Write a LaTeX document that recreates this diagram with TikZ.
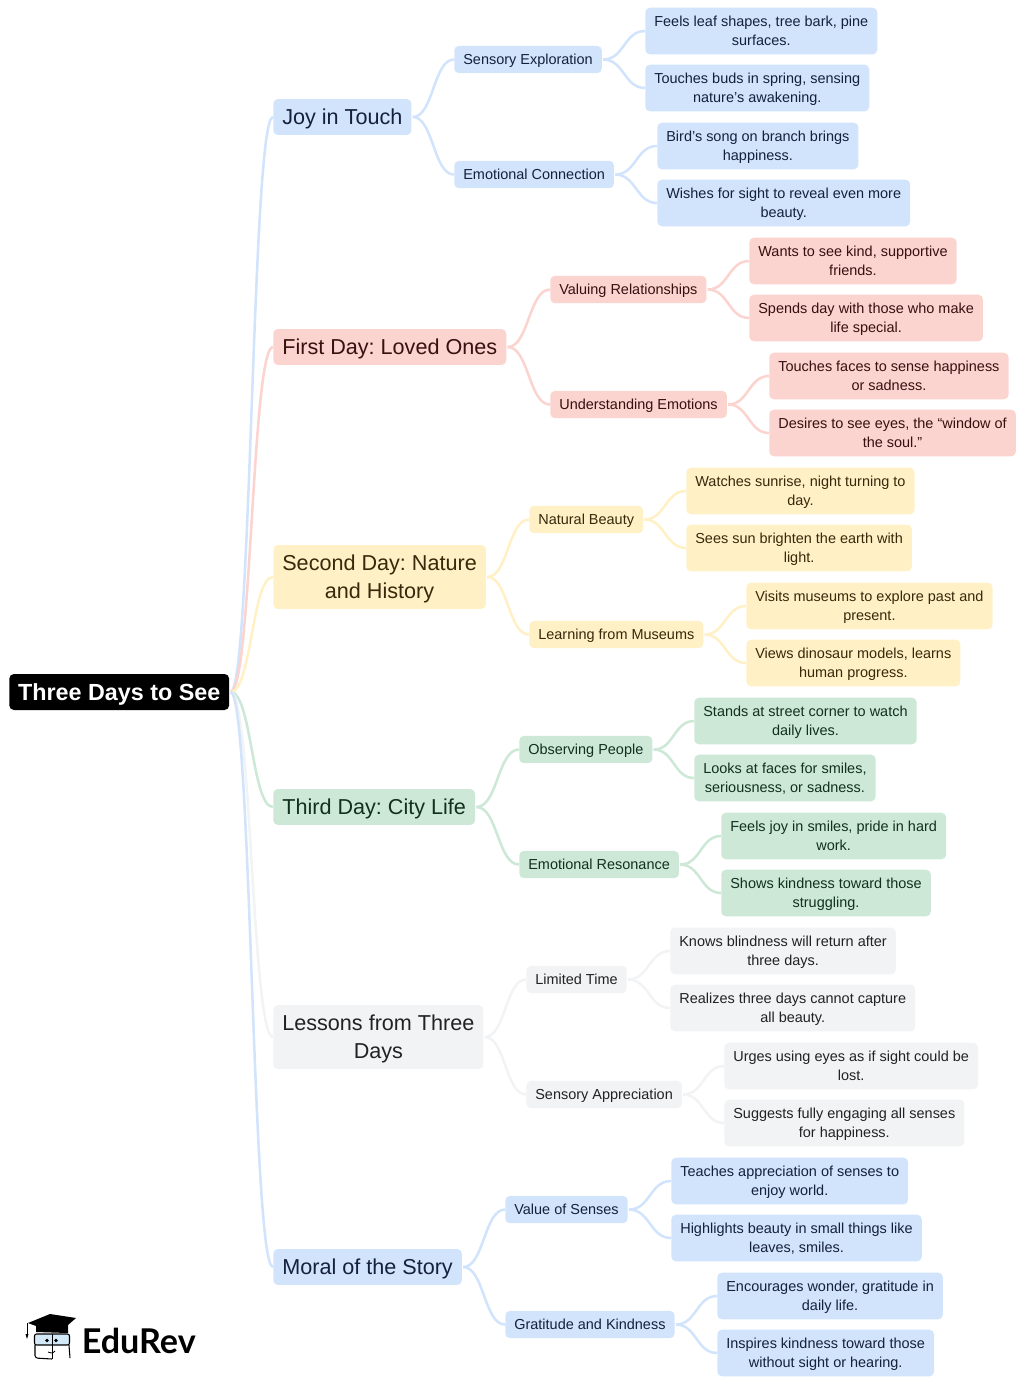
\documentclass[tikz,border=0pt]{standalone}
\usepackage{fontspec}
\setmainfont{Liberation Sans}
\newfontfamily\logofont{Lato}
\usetikzlibrary{calc}
\frenchspacing

\definecolor{fillblue}{HTML}{D2E3FC}
\definecolor{fillpink}{HTML}{FBD3CF}
\definecolor{fillyellow}{HTML}{FFF0C6}
\definecolor{fillgreen}{HTML}{CDE8D6}
\definecolor{fillgray}{HTML}{F2F3F4}
\definecolor{inkblue}{HTML}{14213D}
\definecolor{inkpink}{HTML}{35120F}
\definecolor{inkyellow}{HTML}{362A0A}
\definecolor{inkgreen}{HTML}{12301F}
\definecolor{inkgray}{HTML}{222222}
\definecolor{logoglass}{HTML}{D3E9F8}

\begin{document}
\begin{tikzpicture}[x=0.75pt,y=-0.75pt,
  box node/.style={anchor=west,rounded corners=3.5pt,align=center,text depth=0pt},
  root node/.style={box node,fill=black,text=white,inner xsep=6.6pt,inner ysep=1pt,minimum height=27pt,
    font=\fontsize{17.5}{21}\selectfont\bfseries},
  topic node/.style={box node,inner xsep=6.8pt,inner ysep=7.6pt,font=\fontsize{16.2}{21}\selectfont},
  sub node/.style={box node,yshift=-0.4pt,inner xsep=6.8pt,inner ysep=1pt,minimum height=20.5pt,font=\fontsize{10.85}{14.25}\selectfont},
  leaf node/.style={box node,inner xsep=6.8pt,inner ysep=1pt,minimum height=35pt,font=\fontsize{10.85}{14.25}\selectfont},
  blue tint/.style={fill=fillblue,text=inkblue},
  pink tint/.style={fill=fillpink,text=inkpink},
  yellow tint/.style={fill=fillyellow,text=inkyellow},
  green tint/.style={fill=fillgreen,text=inkgreen},
  gray tint/.style={fill=fillgray,text=inkgray},
  link/.style={line width=1.9pt,to path={let \p1=([xshift=0.8pt]\tikztostart.east),\p2=(\tikztotarget.west),
    \n1={(\x1+\x2)/2} in (\p1) .. controls (\n1,\y1) and (\n1,\y2) .. (\p2)}}]

  \useasboundingbox (0,0) rectangle (1024,1384);

  \node[root node] (root) at (9,692) {Three Days to See};

  \node[topic node,blue tint] (joy) at (273,117) {Joy in Touch};
  \node[topic node,pink tint] (first) at (273,347) {First Day: Loved Ones};
  \node[topic node,yellow tint] (second) at (273,577) {Second Day: Nature\\and History};
  \node[topic node,green tint] (third) at (273,807) {Third Day: City Life};
  \node[topic node,gray tint] (lessons) at (273,1037) {Lessons from Three\\Days};
  \node[topic node,blue tint] (moral) at (273,1267) {Moral of the Story};

  \node[sub node,blue tint] (joy1) at (454,59) {Sensory Exploration};
  \node[sub node,blue tint] (joy2) at (454,174) {Emotional Connection};
  \node[sub node,pink tint] (first1) at (550,289) {Valuing Relationships};
  \node[sub node,pink tint] (first2) at (550,404) {Understanding Emotions};
  \node[sub node,yellow tint] (second1) at (529,519) {Natural Beauty};
  \node[sub node,yellow tint] (second2) at (529,634) {Learning from Museums};
  \node[sub node,green tint] (third1) at (519,749) {Observing People};
  \node[sub node,green tint] (third2) at (519,864) {Emotional Resonance};
  \node[sub node,gray tint] (lessons1) at (526,979) {Limited Time};
  \node[sub node,gray tint] (lessons2) at (526,1094) {Sensory Appreciation};
  \node[sub node,blue tint] (moral1) at (505,1209) {Value of Senses};
  \node[sub node,blue tint] (moral2) at (505,1324) {Gratitude and Kindness};

  \node[leaf node,blue tint] (joy11) at (645,31) {Feels leaf shapes, tree bark, pine\\surfaces.};
  \node[leaf node,blue tint] (joy12) at (645,88) {Touches buds in spring, sensing\\nature’s awakening.};
  \node[leaf node,blue tint] (joy21) at (657,146) {Bird’s song on branch brings\\happiness.};
  \node[leaf node,blue tint] (joy22) at (657,203) {Wishes for sight to reveal even more\\beauty.};
  \node[leaf node,pink tint] (first11) at (749,261) {Wants to see kind, supportive\\friends.};
  \node[leaf node,pink tint] (first12) at (749,318) {Spends day with those who make\\life special.};
  \node[leaf node,pink tint] (first21) at (769,376) {Touches faces to sense happiness\\or sadness.};
  \node[leaf node,pink tint] (first22) at (769,433) {Desires to see eyes, the “window of\\the soul.”};
  \node[leaf node,yellow tint] (second11) at (686,491) {Watches sunrise, night turning to\\day.};
  \node[leaf node,yellow tint] (second12) at (686,548) {Sees sun brighten the earth with\\light.};
  \node[leaf node,yellow tint] (second21) at (746,606) {Visits museums to explore past and\\present.};
  \node[leaf node,yellow tint] (second22) at (746,663) {Views dinosaur models, learns\\human progress.};
  \node[leaf node,green tint] (third11) at (694,721) {Stands at street corner to watch\\daily lives.};
  \node[leaf node,green tint] (third12) at (694,778) {Looks at faces for smiles,\\seriousness, or sadness.};
  \node[leaf node,green tint] (third21) at (721,836) {Feels joy in smiles, pride in hard\\work.};
  \node[leaf node,green tint] (third22) at (721,893) {Shows kindness toward those\\struggling.};
  \node[leaf node,gray tint] (lessons11) at (670,951) {Knows blindness will return after\\three days.};
  \node[leaf node,gray tint] (lessons12) at (670,1008) {Realizes three days cannot capture\\all beauty.};
  \node[leaf node,gray tint] (lessons21) at (724,1066) {Urges using eyes as if sight could be\\lost.};
  \node[leaf node,gray tint] (lessons22) at (724,1123) {Suggests fully engaging all senses\\for happiness.};
  \node[leaf node,blue tint] (moral11) at (671,1181) {Teaches appreciation of senses to\\enjoy world.};
  \node[leaf node,blue tint] (moral12) at (671,1238) {Highlights beauty in small things like\\leaves, smiles.};
  \node[leaf node,blue tint] (moral21) at (717,1296) {Encourages wonder, gratitude in\\daily life.};
  \node[leaf node,blue tint] (moral22) at (717,1353) {Inspires kindness toward those\\without sight or hearing.};

  \path[link,draw=fillblue] (root) edge (joy)
    (joy) edge (joy1) (joy) edge (joy2)
    (joy1) edge (joy11) (joy1) edge (joy12)
    (joy2) edge (joy21) (joy2) edge (joy22);
  \path[link,draw=fillpink] (root) edge (first)
    (first) edge (first1) (first) edge (first2)
    (first1) edge (first11) (first1) edge (first12)
    (first2) edge (first21) (first2) edge (first22);
  \path[link,draw=fillyellow] (root) edge (second)
    (second) edge (second1) (second) edge (second2)
    (second1) edge (second11) (second1) edge (second12)
    (second2) edge (second21) (second2) edge (second22);
  \path[link,draw=fillgreen] (root) edge (third)
    (third) edge (third1) (third) edge (third2)
    (third1) edge (third11) (third1) edge (third12)
    (third2) edge (third21) (third2) edge (third22);
  \path[link,draw=fillgray] (root) edge (lessons)
    (lessons) edge (lessons1) (lessons) edge (lessons2)
    (lessons1) edge (lessons11) (lessons1) edge (lessons12)
    (lessons2) edge (lessons21) (lessons2) edge (lessons22);
  \path[link,draw=fillblue] (root) edge (moral)
    (moral) edge (moral1) (moral) edge (moral2)
    (moral1) edge (moral11) (moral1) edge (moral12)
    (moral2) edge (moral21) (moral2) edge (moral22);

  % logo
  \node[anchor=west,inner sep=0pt,font=\logofont\fontsize{25.6}{30}\selectfont\bfseries] (edurev) at (81.5,1341) {EduRev};
  \fill (28,1323) -- (50,1314) -- (76,1318) -- (68,1325) -- (68,1333) -- (36,1332) -- (36,1326) -- cycle;
  \draw[line width=0.6pt] (27,1323) -- (27,1335);
  \fill (25.5,1334) -- (28.5,1334) -- (27,1339) -- cycle;
  \draw[line width=0.8pt,fill=logoglass,rounded corners=1.5pt] (34.5,1334) rectangle (69.5,1345);
  \draw[line width=0.7pt] (52,1334) -- (52,1359);
  \fill (47,1340.5) circle (1.8) (56,1340.5) circle (1.8);
  \draw[line width=0.8pt,rounded corners=2pt] (35,1345) -- (35,1358) -- (52,1359);
  \draw[line width=0.8pt,rounded corners=2pt] (69,1345) -- (70,1358);
  \draw[line width=0.6pt] (48,1352) .. controls (50,1353.5) and (53,1353.5) .. (55,1351);
\end{tikzpicture}
\end{document}
